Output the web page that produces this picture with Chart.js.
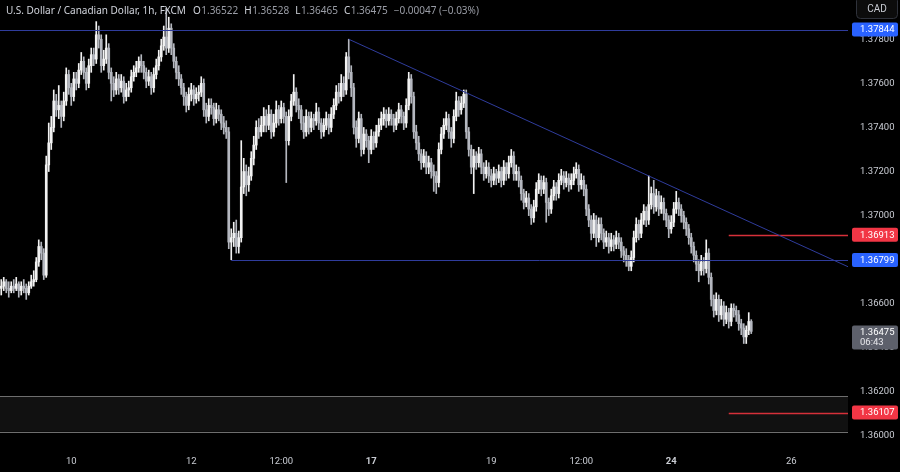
<!DOCTYPE html>
<html>
<head>
<meta charset="utf-8">
<script src="https://cdn.jsdelivr.net/npm/chart.js@4.4.1/dist/chart.umd.min.js"></script>
<style>
  html, body { margin: 0; padding: 0; background: #000; }
  canvas { display: block; }
</style>
</head>
<body>
<canvas id="chart" width="900" height="472"></canvas>
<script>
// hourly USD/CAD candles (slot = one hour, weekends skipped)
const firstOpen = 1.3667;
const closes = [
  1.3668,1.3670,1.3667,1.3666,1.3668,1.3667,1.3669,1.3666,1.3668,1.3667,
  1.3665,1.3668,1.3670,1.3671,1.3679,1.3686,1.3683,1.3673,1.3723,1.3733,
  1.3740,1.3752,1.3748,1.3750,1.3745,1.3752,1.3764,1.3758,1.3754,1.3762,
  1.3760,1.3766,1.3770,1.3765,1.3760,1.3768,1.3773,1.3771,1.3782,1.3780,
  1.3768,1.3771,1.3776,1.3765,1.3760,1.3757,1.3762,1.3758,1.3761,1.3754,
  1.3757,1.3758,1.3763,1.3765,1.3767,1.3770,1.3768,1.3765,1.3761,1.3763,
  1.3758,1.3764,1.3768,1.3772,1.3777,1.3781,1.3776,1.3785,1.3776,1.3770,
  1.3765,1.3762,1.3758,1.3754,1.3750,1.3755,1.3757,1.3753,1.3755,1.3756,
  1.3760,1.3748,1.3745,1.3750,1.3749,1.3744,1.3748,1.3746,1.3742,1.3740,
  1.3738,1.3688,1.3690,1.3692,1.3686,1.3690,1.3713,1.3720,1.3714,1.3718,
  1.3726,1.3732,1.3740,1.3738,1.3741,1.3745,1.3741,1.3746,1.3738,1.3742,
  1.3748,1.3744,1.3749,1.3745,1.3734,1.3745,1.3752,1.3756,1.3750,1.3748,
  1.3742,1.3738,1.3745,1.3740,1.3744,1.3743,1.3747,1.3742,1.3738,1.3741,
  1.3744,1.3740,1.3746,1.3750,1.3756,1.3754,1.3760,1.3757,1.3772,1.3765,
  1.3758,1.3740,1.3735,1.3744,1.3730,1.3737,1.3734,1.3730,1.3736,1.3733,
  1.3738,1.3741,1.3744,1.3746,1.3743,1.3746,1.3744,1.3741,1.3744,1.3748,
  1.3745,1.3742,1.3750,1.3762,1.3754,1.3738,1.3733,1.3728,1.3724,1.3727,
  1.3722,1.3724,1.3720,1.3718,1.3715,1.3730,1.3737,1.3741,1.3744,1.3738,
  1.3735,1.3745,1.3752,1.3748,1.3751,1.3755,1.3738,1.3730,1.3722,1.3727,
  1.3724,1.3728,1.3722,1.3719,1.3722,1.3718,1.3716,1.3719,1.3717,1.3720,
  1.3716,1.3722,1.3719,1.3724,1.3727,1.3719,1.3720,1.3716,1.3710,1.3706,
  1.3708,1.3703,1.3699,1.3704,1.3712,1.3716,1.3712,1.3715,1.3706,1.3703,
  1.3709,1.3713,1.3710,1.3716,1.3718,1.3715,1.3717,1.3714,1.3716,1.3719,
  1.3721,1.3714,1.3716,1.3712,1.3703,1.3698,1.3692,1.3698,1.3690,1.3696,
  1.3692,1.3688,1.3690,1.3686,1.3689,1.3687,1.3690,1.3688,1.3684,1.3682,
  1.3680,1.3677,1.3681,1.3690,1.3696,1.3692,1.3698,1.3702,1.3698,1.3705,
  1.3710,1.3704,1.3709,1.3703,1.3706,1.3701,1.3698,1.3694,1.3697,1.3703,
  1.3706,1.3703,1.3700,1.3697,1.3694,1.3690,1.3686,1.3682,1.3678,1.3675,
  1.3679,1.3676,1.3683,1.3672,1.3662,1.3657,1.3662,1.3655,1.3659,1.3653,
  1.3656,1.3652,1.3658,1.3657,1.3655,1.3651,1.3649,1.3645,1.3648,1.3652,
  1.36475
];
const highs = [
  1.3671,1.3672,1.3671,1.3670,1.3670,1.3671,1.3672,1.3670,1.3670,1.3671,
  1.3669,1.3670,1.3673,1.3675,1.3681,1.3689,1.3688,1.3685,1.3727,1.3742,
  1.3745,1.3757,1.3755,1.3759,1.3752,1.3756,1.3767,1.3766,1.3760,1.3765,
  1.3765,1.3769,1.3774,1.3772,1.3767,1.3771,1.3776,1.3776,1.3788,1.3786,
  1.3782,1.3775,1.3782,1.3778,1.3767,1.3763,1.3765,1.3764,1.3764,1.3763,
  1.3760,1.3761,1.3766,1.3768,1.3770,1.3772,1.3773,1.3770,1.3767,1.3766,
  1.3765,1.3767,1.3771,1.3775,1.3780,1.3786,1.3794,1.3790,1.3787,1.3778,
  1.3772,1.3768,1.3764,1.3760,1.3756,1.3758,1.3760,1.3759,1.3758,1.3759,
  1.3763,1.3762,1.3751,1.3753,1.3753,1.3751,1.3751,1.3750,1.3748,1.3745,
  1.3743,1.3740,1.3694,1.3697,1.3698,1.3693,1.3734,1.3726,1.3723,1.3722,
  1.3729,1.3736,1.3743,1.3744,1.3745,1.3749,1.3748,1.3750,1.3748,1.3746,
  1.3752,1.3750,1.3752,1.3751,1.3747,1.3748,1.3755,1.3764,1.3758,1.3753,
  1.3750,1.3745,1.3748,1.3747,1.3747,1.3746,1.3751,1.3749,1.3744,1.3744,
  1.3747,1.3746,1.3749,1.3753,1.3759,1.3760,1.3764,1.3763,1.3774,1.3780,
  1.3768,1.3760,1.3743,1.3747,1.3746,1.3740,1.3739,1.3736,1.3739,1.3738,
  1.3741,1.3744,1.3747,1.3749,1.3748,1.3749,1.3748,1.3746,1.3747,1.3751,
  1.3750,1.3747,1.3753,1.3765,1.3764,1.3756,1.3741,1.3736,1.3730,1.3730,
  1.3729,1.3727,1.3726,1.3723,1.3720,1.3733,1.3740,1.3744,1.3747,1.3746,
  1.3740,1.3748,1.3756,1.3754,1.3754,1.3757,1.3757,1.3740,1.3732,1.3730,
  1.3729,1.3731,1.3730,1.3724,1.3725,1.3724,1.3721,1.3722,1.3721,1.3723,
  1.3722,1.3725,1.3724,1.3727,1.3730,1.3729,1.3723,1.3722,1.3718,1.3712,
  1.3711,1.3710,1.3705,1.3707,1.3715,1.3719,1.3718,1.3718,1.3717,1.3708,
  1.3712,1.3716,1.3715,1.3719,1.3721,1.3720,1.3720,1.3719,1.3719,1.3722,
  1.3724,1.3723,1.3719,1.3718,1.3714,1.3705,1.3700,1.3701,1.3700,1.3699,
  1.3699,1.3694,1.3693,1.3692,1.3692,1.3691,1.3693,1.3692,1.3690,1.3686,
  1.3685,1.3682,1.3684,1.3693,1.3699,1.3698,1.3701,1.3705,1.3704,1.3718,
  1.3713,1.3716,1.3712,1.3711,1.3709,1.3708,1.3703,1.3700,1.3700,1.3706,
  1.3711,1.3708,1.3705,1.3702,1.3699,1.3696,1.3692,1.3688,1.3684,1.3680,
  1.3682,1.3681,1.3689,1.3685,1.3674,1.3664,1.3665,1.3664,1.3662,1.3661,
  1.3659,1.3658,1.3660,1.3660,1.3659,1.3657,1.3653,1.3651,1.3650,1.3656,
  1.36528
];
const lows = [
  1.3664,1.3666,1.3665,1.3663,1.3665,1.3665,1.3666,1.3663,1.3664,1.3665,
  1.3662,1.3664,1.3667,1.3668,1.3670,1.3677,1.3680,1.3671,1.3672,1.3720,
  1.3730,1.3738,1.3745,1.3744,1.3740,1.3743,1.3750,1.3755,1.3750,1.3752,
  1.3757,1.3758,1.3764,1.3762,1.3757,1.3758,1.3765,1.3768,1.3769,1.3776,
  1.3765,1.3766,1.3769,1.3762,1.3752,1.3754,1.3755,1.3755,1.3756,1.3751,
  1.3752,1.3754,1.3756,1.3761,1.3763,1.3765,1.3765,1.3762,1.3758,1.3759,
  1.3755,1.3756,1.3762,1.3766,1.3770,1.3775,1.3773,1.3774,1.3773,1.3767,
  1.3762,1.3759,1.3755,1.3750,1.3747,1.3748,1.3752,1.3750,1.3751,1.3752,
  1.3754,1.3745,1.3742,1.3743,1.3746,1.3741,1.3742,1.3743,1.3739,1.3737,
  1.3735,1.3685,1.3680,1.3686,1.3683,1.3683,1.3688,1.3710,1.3709,1.3711,
  1.3716,1.3723,1.3730,1.3735,1.3736,1.3738,1.3738,1.3739,1.3735,1.3736,
  1.3740,1.3741,1.3742,1.3742,1.3715,1.3732,1.3743,1.3750,1.3747,1.3744,
  1.3739,1.3735,1.3736,1.3737,1.3738,1.3739,1.3741,1.3739,1.3735,1.3736,
  1.3739,1.3737,1.3738,1.3744,1.3748,1.3751,1.3752,1.3754,1.3755,1.3762,
  1.3754,1.3737,1.3731,1.3733,1.3727,1.3728,1.3731,1.3724,1.3728,1.3730,
  1.3731,1.3736,1.3739,1.3741,1.3740,1.3741,1.3741,1.3738,1.3739,1.3742,
  1.3742,1.3739,1.3740,1.3748,1.3751,1.3735,1.3730,1.3725,1.3721,1.3722,
  1.3719,1.3719,1.3717,1.3711,1.3710,1.3713,1.3728,1.3735,1.3739,1.3735,
  1.3731,1.3733,1.3743,1.3745,1.3746,1.3749,1.3735,1.3727,1.3719,1.3710,
  1.3721,1.3722,1.3719,1.3716,1.3717,1.3715,1.3713,1.3714,1.3714,1.3715,
  1.3713,1.3714,1.3716,1.3717,1.3722,1.3716,1.3716,1.3713,1.3707,1.3703,
  1.3704,1.3700,1.3696,1.3697,1.3702,1.3710,1.3709,1.3710,1.3697,1.3700,
  1.3701,1.3707,1.3707,1.3708,1.3714,1.3712,1.3713,1.3711,1.3712,1.3714,
  1.3717,1.3711,1.3712,1.3709,1.3700,1.3695,1.3689,1.3690,1.3686,1.3688,
  1.3689,1.3685,1.3686,1.3683,1.3684,1.3684,1.3685,1.3685,1.3681,1.3679,
  1.3677,1.3675,1.3675,1.3679,1.3688,1.3689,1.3690,1.3696,1.3695,1.3696,
  1.3703,1.3701,1.3702,1.3700,1.3701,1.3698,1.3695,1.3690,1.3692,1.3695,
  1.3701,1.3700,1.3697,1.3694,1.3691,1.3687,1.3683,1.3679,1.3675,1.3670,
  1.3673,1.3673,1.3674,1.3669,1.3659,1.3654,1.3655,1.3652,1.3653,1.3650,
  1.3651,1.3649,1.3650,1.3654,1.3652,1.3648,1.3646,1.3642,1.3642,1.3646,
  1.36465
];

// time axis labels (slot index -> label)
const tickSlots = [28, 76, 112, 148, 196, 232, 268, 316];
const tickTexts = ["10", "12", "12:00", "17", "19", "12:00", "24", "26"];
const tickBold = [false, false, false, true, false, false, true, false];
const priceTicks = [1.360, 1.362, 1.364, 1.366, 1.368, 1.370, 1.372, 1.374, 1.376, 1.378];

// drawings
const resistanceLevel = 1.37844;
const supportLevel = 1.36799;
const supportFrom = 92;
const redLevels = [1.36913, 1.36107];
const redFrom = 291;
const zoneTop = 1.3618, zoneBottom = 1.3602;
const trendSlots = [139, 259];
const trendPrices = [1.3780, 1.3718];
const lastPrice = 1.36475;
const countdown = "06:43";

const header = {
  name: "U.S. Dollar / Canadian Dollar, 1h, FXCM",
  o: "1.36522", h: "1.36528", l: "1.36465", c: "1.36475",
  chg: "\u22120.00047 (\u22120.03%)"
};

const opens = closes.map((c, i) => (i === 0 ? firstOpen : closes[i - 1]));
const upColor = "#f2f2f2";
const downColor = "#b4b7bf";
const candleColor = (i) => (closes[i] >= opens[i] ? upColor : downColor);

const axisFont = "Roboto";
const axisColor = "#c9ccd3";
const lineBlue = "#2f3c9c";
const lineRed = "rgb(214, 48, 58)";

function priceTag(ctx, y, text, bg, sub) {
  const h = sub ? 24 : 14;
  const top = sub ? y - 6 : y - h / 2;
  ctx.fillStyle = bg;
  ctx.beginPath();
  ctx.roundRect(852, top, 46, h, 2);
  ctx.fill();
  ctx.fillStyle = "#ffffff";
  ctx.font = "9.5px " + axisFont;
  ctx.textBaseline = "middle";
  ctx.textAlign = "left";
  ctx.fillText(text, 860, sub ? top + 7 : y + 0.5);
  if (sub) {
    ctx.fillStyle = "#e8e8ec";
    ctx.fillText(sub, 860, top + 17.5);
  }
}

const overlay = {
  id: "overlay",
  beforeDatasetsDraw(chart) {
    const { ctx, chartArea, scales: { y } } = chart;
    const t = y.getPixelForValue(zoneTop), b = y.getPixelForValue(zoneBottom);
    ctx.save();
    ctx.fillStyle = "#111111";
    ctx.fillRect(chartArea.left, t, chartArea.right - chartArea.left, b - t);
    ctx.strokeStyle = "#6e6e6e";
    ctx.lineWidth = 1;
    ctx.beginPath();
    ctx.moveTo(chartArea.left, Math.round(t) + 0.5); ctx.lineTo(chartArea.right, Math.round(t) + 0.5);
    ctx.moveTo(chartArea.left, Math.round(b) + 0.5); ctx.lineTo(chartArea.right, Math.round(b) + 0.5);
    ctx.stroke();
    ctx.restore();
  },
  afterDatasetsDraw(chart) {
    const { ctx, chartArea, scales: { x, y } } = chart;
    ctx.save();
    ctx.beginPath();
    ctx.rect(chartArea.left, chartArea.top, chartArea.right - chartArea.left, chartArea.bottom - chartArea.top);
    ctx.clip();

    const hline = (price, fromX, color, width) => {
      const py = Math.round(y.getPixelForValue(price)) + 0.5;
      ctx.strokeStyle = color;
      ctx.lineWidth = width;
      ctx.beginPath();
      ctx.moveTo(fromX, py);
      ctx.lineTo(chartArea.right, py);
      ctx.stroke();
    };
    hline(resistanceLevel, chartArea.left, lineBlue, 1);
    hline(supportLevel, x.getPixelForValue(supportFrom), lineBlue, 1);
    redLevels.forEach((p) => hline(p, x.getPixelForValue(redFrom), lineRed, 1.3));

    // descending trendline, extended to the right edge
    const slope = (trendPrices[1] - trendPrices[0]) / (trendSlots[1] - trendSlots[0]);
    const endSlot = x.max;
    ctx.strokeStyle = lineBlue;
    ctx.lineWidth = 1;
    ctx.beginPath();
    ctx.moveTo(x.getPixelForValue(trendSlots[0]), y.getPixelForValue(trendPrices[0]));
    ctx.lineTo(x.getPixelForValue(endSlot), y.getPixelForValue(trendPrices[0] + slope * (endSlot - trendSlots[0])));
    ctx.stroke();
    ctx.restore();
  },
  afterDraw(chart) {
    const { ctx, scales: { y } } = chart;
    ctx.save();
    priceTag(ctx, y.getPixelForValue(resistanceLevel), resistanceLevel.toFixed(5), "#2962ff");
    priceTag(ctx, y.getPixelForValue(redLevels[0]), redLevels[0].toFixed(5), "#f23645");
    priceTag(ctx, y.getPixelForValue(supportLevel), supportLevel.toFixed(5), "#2962ff");
    priceTag(ctx, y.getPixelForValue(lastPrice), lastPrice.toFixed(5), "#5d606b", countdown);
    priceTag(ctx, y.getPixelForValue(redLevels[1]), redLevels[1].toFixed(5), "#f23645");

    // currency button
    ctx.fillStyle = "#0c0c0c";
    ctx.strokeStyle = "#2f323b";
    ctx.lineWidth = 1;
    ctx.beginPath();
    ctx.roundRect(856.5, -3.5, 41, 22, 4);
    ctx.fill();
    ctx.stroke();
    ctx.fillStyle = "#c9ccd3";
    ctx.font = "10px " + axisFont;
    ctx.textAlign = "center";
    ctx.textBaseline = "middle";
    ctx.fillText("CAD", 877, 9);

    // legend line
    ctx.textAlign = "left";
    ctx.textBaseline = "alphabetic";
    ctx.font = "10px 'Noto Sans'";
    ctx.fillStyle = "#d1d4dc";
    ctx.fillText(header.name, 6, 14);
    let px = 6 + ctx.measureText(header.name).width + 7;
    const parts = [["O", header.o], ["H", header.h], ["L", header.l], ["C", header.c]];
    parts.forEach(([k, v]) => {
      ctx.fillStyle = "#d1d4dc";
      ctx.fillText(k, px, 14);
      px += ctx.measureText(k).width + 0.5;
      ctx.fillStyle = "#9a9da6";
      ctx.fillText(v, px, 14);
      px += ctx.measureText(v).width + 6;
    });
    ctx.fillStyle = "#9a9da6";
    ctx.fillText(header.chg, px, 14);
    ctx.restore();
  }
};

new Chart(document.getElementById("chart"), {
  type: "bar",
  data: {
    datasets: [
      {
        label: "body",
        data: closes.map((c, i) => ({ x: i, y: [opens[i], c] })),
        backgroundColor: (ctx) => candleColor(ctx.dataIndex),
        barThickness: 2,
        minBarLength: 1,
        grouped: false,
        borderWidth: 0,
      },
      {
        label: "wick",
        data: closes.map((c, i) => ({ x: i, y: [lows[i], highs[i]] })),
        backgroundColor: (ctx) => candleColor(ctx.dataIndex),
        barThickness: 1,
        grouped: false,
        borderWidth: 0,
      },
    ],
  },
  options: {
    responsive: false,
    animation: false,
    layout: { padding: 0 },
    plugins: { legend: { display: false }, tooltip: { enabled: false } },
    scales: {
      x: {
        type: "linear",
        min: -0.5,
        max: 338.7,
        offset: false,
        grid: { display: false, drawTicks: false },
        border: { display: false },
        afterBuildTicks: (axis) => { axis.ticks = tickSlots.map((v) => ({ value: v })); },
        afterFit: (axis) => { axis.height = 22; axis.paddingLeft = 0; axis.paddingRight = 0; },
        ticks: {
          color: axisColor,
          padding: 6,
          maxRotation: 0,
          autoSkip: false,
          font: (c) => ({ family: axisFont, size: 9.5, weight: c.tick && tickBold[tickSlots.indexOf(c.tick.value)] ? "bold" : "normal" }),
          callback: (v) => tickTexts[tickSlots.indexOf(v)] ?? "",
        },
      },
      y: {
        position: "right",
        min: 1.35937,
        max: 1.37978,
        grid: { display: false, drawTicks: false },
        border: { display: false },
        afterBuildTicks: (axis) => { axis.ticks = priceTicks.map((v) => ({ value: v })); },
        afterFit: (axis) => { axis.width = 52; axis.paddingTop = 0; axis.paddingBottom = 0; },
        ticks: {
          color: axisColor,
          padding: 12,
          font: { family: axisFont, size: 9.5 },
          callback: (v) => v.toFixed(5),
        },
      },
    },
  },
  plugins: [overlay],
});
</script>
</body>
</html>
